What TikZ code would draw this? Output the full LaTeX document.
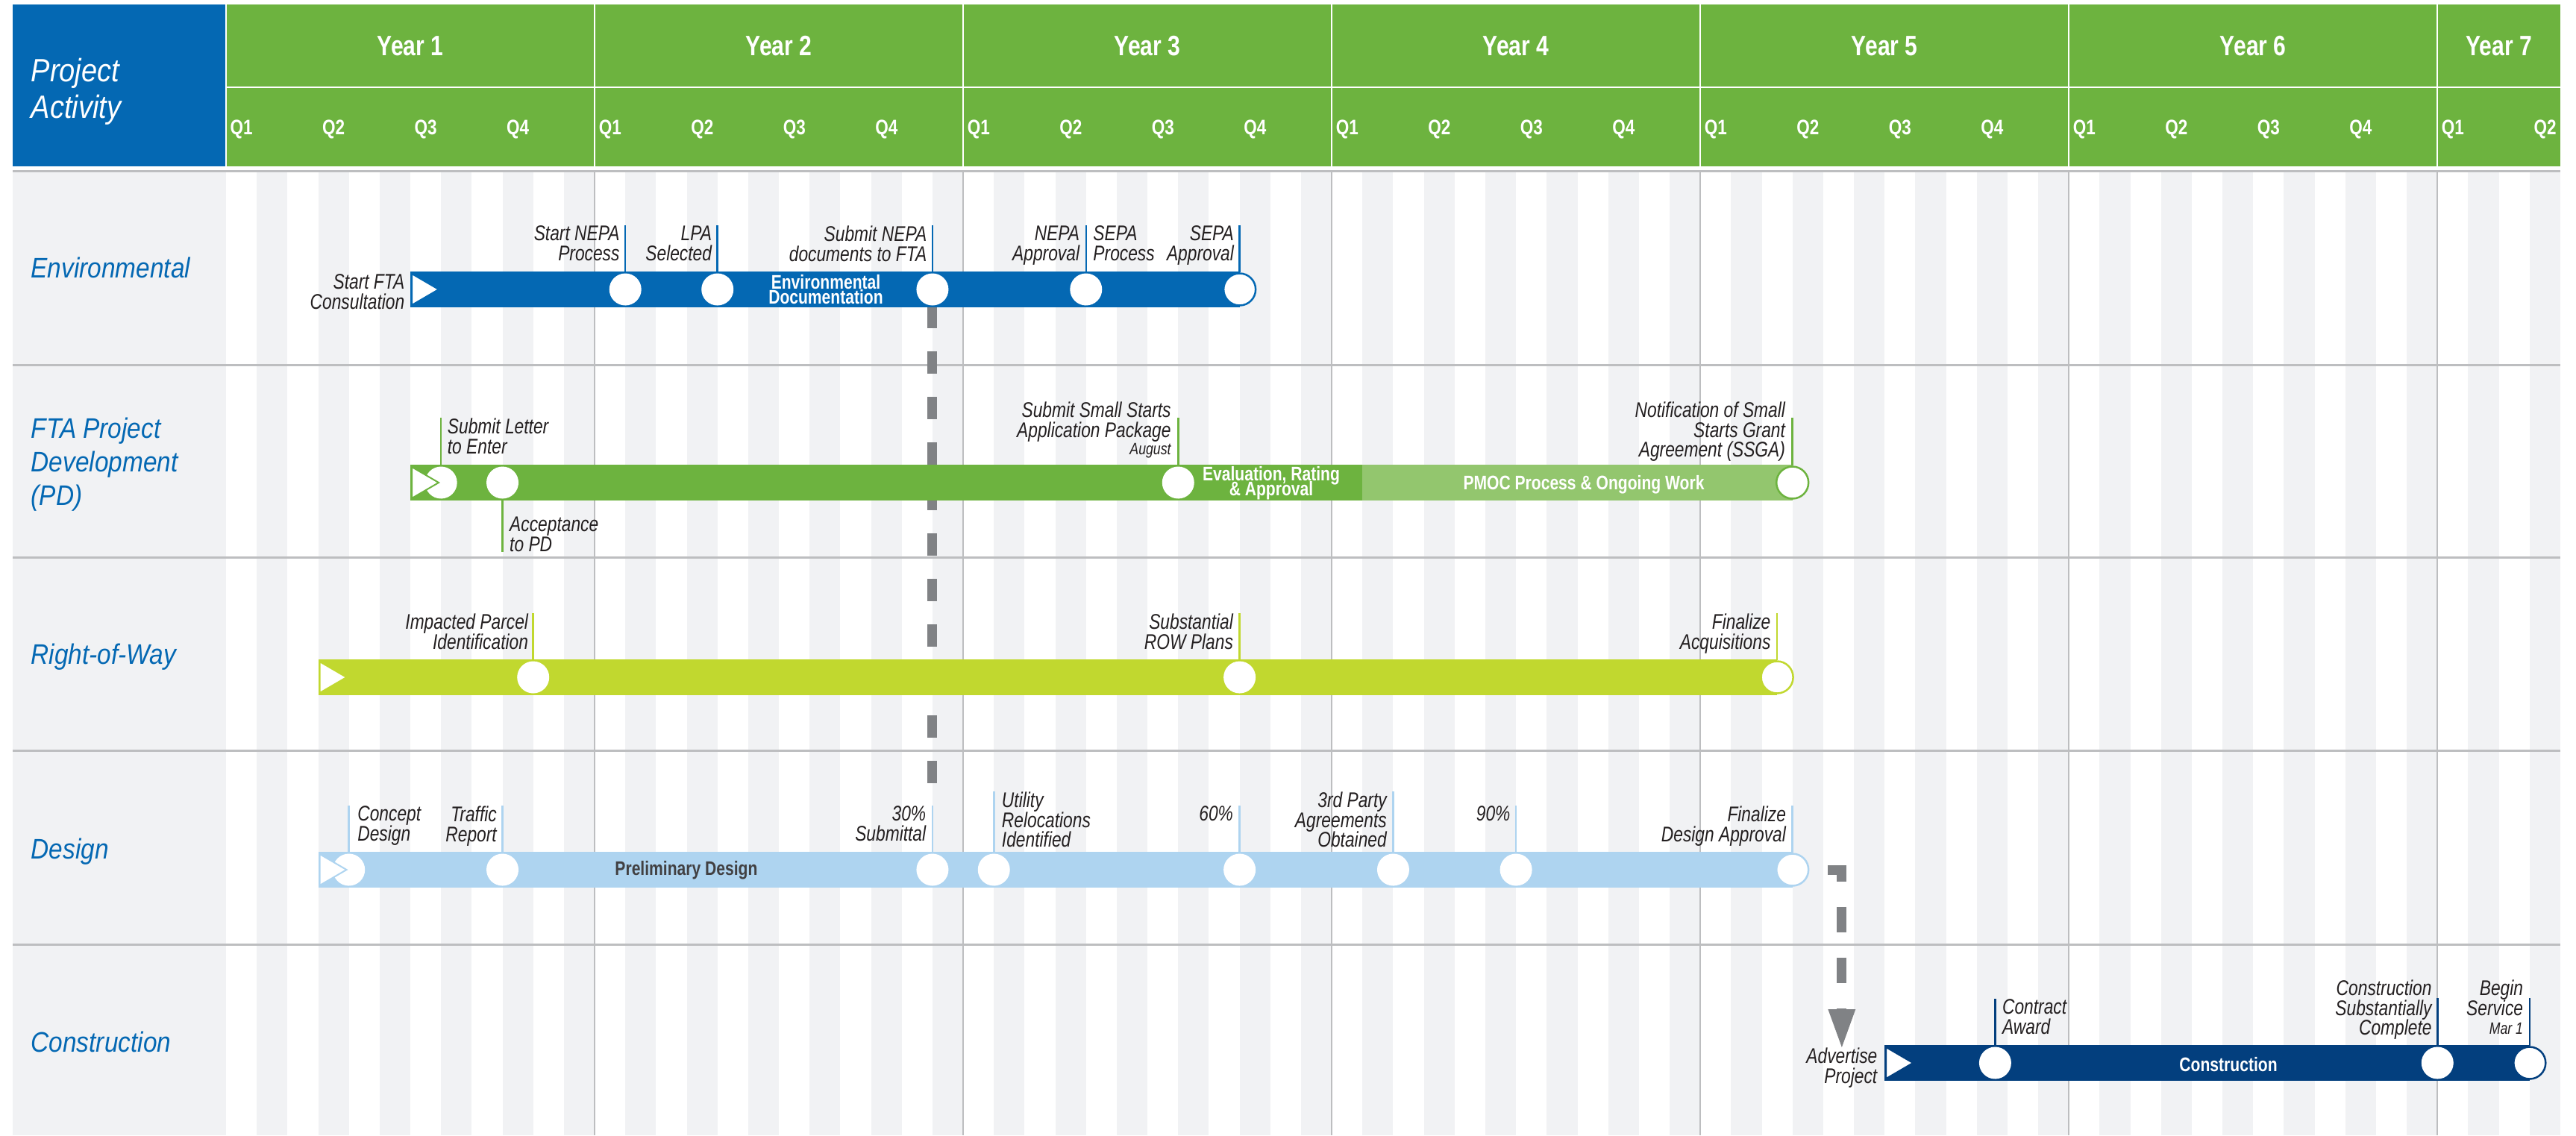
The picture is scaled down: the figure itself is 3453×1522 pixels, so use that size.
\documentclass[tikz,border=0pt]{standalone}
\usepackage{fontspec}
\setmainfont{Liberation Sans}[FakeStretch=0.8]
\newfontfamily\widefont{Liberation Sans}[FakeStretch=0.88]
\usetikzlibrary{arrows.meta}

\definecolor{pblue}{HTML}{0468B3}
\definecolor{pgreen}{HTML}{6DB33F}
\definecolor{plgreen}{HTML}{93C66E}
\definecolor{rowgreen}{HTML}{C1D82F}
\definecolor{dsblue}{HTML}{AED4F0}
\definecolor{cnavy}{HTML}{033F7E}
\definecolor{stripe}{HTML}{F1F2F4}
\definecolor{gridgrey}{HTML}{BDBEC0}
\definecolor{dashgrey}{HTML}{808285}
\definecolor{ink}{HTML}{231F20}
\definecolor{barink}{HTML}{414042}

\pgfdeclarelayer{grid}
\pgfdeclarelayer{links}
\pgfsetlayers{grid,links,main}

% x position of a month on the time axis
\newcommand{\mpos}[1]{303+41.17*(#1)}
\newcommand{\tightlines}{\lineskiplimit=-100pt\relax}

\begin{document}
\begin{tikzpicture}[x=0.1mm,y=-0.1mm,
		ms/.style={circle,fill=white,inner sep=0pt,minimum size=4.3mm},
		msend/.style={ms,draw=#1,line width=0.25mm},
		lead/.style={line width=0.25mm},
		lbl/.style={inner sep=0pt,text=ink,font=\fontsize{8.1}{7.6}\selectfont\itshape\tightlines},
		datelbl/.style={inner sep=0pt,text=ink,font=\fontsize{6.3}{6.3}\selectfont\itshape},
		rowlbl/.style={inner sep=0pt,text=pblue,align=left,font=\widefont\fontsize{10.8}{12.8}\selectfont\itshape},
		bartxt/.style={inner sep=0pt,text=white,align=center,font=\fontsize{7.5}{5.7}\selectfont\bfseries\tightlines},
		yrlbl/.style={inner sep=0pt,text=white,font=\fontsize{10.7}{12}\selectfont\bfseries},
		qlbl/.style={inner sep=0pt,text=white,font=\fontsize{8}{9}\selectfont\bfseries},
		startmk/.style={fill=white,draw=#1,line width=0.2mm},
		gdash/.style={draw=dashgrey,line width=1.3mm}]
	
	\useasboundingbox (0,0) rectangle (3453,1522);
	
	% background grid and header
	\begin{pgfonlayer}{grid}
		\fill[white] (0,0) rectangle (3453,1522);
		\fill[stripe] (17,229) rectangle (303,1522);
		\foreach \k in {1,3,...,75}
			\fill[stripe] ({\mpos{\k}},229) rectangle ({\mpos{\k+1}},1522);
		\foreach \k in {12,24,...,72}
			\draw[gridgrey,line width=0.2mm] ({\mpos{\k}},229) -- ({\mpos{\k}},1522);
		\foreach \y in {229,489,747,1006,1266}
			\draw[gridgrey,line width=0.3mm] (17,\y) -- ({\mpos{76}},\y);
		%
		\fill[pblue] (17,6) rectangle (303,223);
		\fill[pgreen] (303,6) rectangle ({\mpos{76}},223);
		\draw[white,line width=0.2mm] (303,117) -- ({\mpos{76}},117);
		\foreach \k in {0,12,...,72}
			\draw[white,line width=0.2mm] ({\mpos{\k}},6) -- ({\mpos{\k}},223);
	\end{pgfonlayer}
	
	\node[anchor=north west,inner sep=0pt,text=white,align=left,font=\widefont\fontsize{12.3}{14.2}\selectfont\itshape] (pact) at (41,77) {Project\\Activity};
	\foreach \y in {1,...,6}
		\node[yrlbl] (yr\y) at ({303+494.04*(\y-0.5)},62) {Year \y};
	\node[yrlbl] (yr7) at ({(\mpos{72}+\mpos{76})/2},62) {Year 7};
	\foreach \q [evaluate=\q as \qn using {int(mod(\q,4)+1)}] in {0,...,25}
		\node[qlbl,anchor=base west] (q\q) at ({308+123.51*\q},180) {Q\qn};
	
	% Environmental
	\node[rowlbl,anchor=base west] (renv) at (41,372) {Environmental};
	\fill[pblue] ({\mpos{6}},364) rectangle ({\mpos{33}},412);
	\node[ms] (snepa) at ({\mpos{13}},388) {};
	\node[ms] (lpa) at ({\mpos{16}},388) {};
	\node[ms] (subnepa) at ({\mpos{23}},388) {};
	\node[ms] (nepaap) at ({\mpos{28}},388) {};
	\node[msend=pblue] (sepaap) at ({\mpos{33}},388) {};
	\draw[startmk=pblue] ({\mpos{6}+2},367) -- ({\mpos{6}+2},409) -- ({\mpos{6}+38},388) -- cycle;
	\node[lbl,align=right,anchor=north east] (sfta-l) at ({\mpos{6}-7},367) {Start FTA\\Consultation};
	\node[lbl,align=right,anchor=north east] (snepa-l) at ({\mpos{13}-7},302) {Start NEPA\\Process};
	\node[lbl,align=right,anchor=north east] (lpa-l) at ({\mpos{16}-7},302) {LPA\\Selected};
	\node[lbl,align=right,anchor=north east] (subnepa-l) at ({\mpos{23}-7},302) {Submit NEPA\\documents to FTA};
	\node[lbl,align=right,anchor=north east] (nepaap-l) at ({\mpos{28}-8},302) {NEPA\\Approval};
	\node[lbl,align=left,anchor=north west] (sepapr-l) at ({\mpos{28}+9},302) {SEPA\\Process};
	\node[lbl,align=right,anchor=north east] (sepaap-l) at ({\mpos{33}-7},302) {SEPA\\Approval};
	\foreach \m in {snepa,lpa,subnepa,nepaap,sepaap}
		\draw[lead,pblue] (\m.north) -- (\m |- \m-l.north);
	\node[bartxt] (envdoc) at (1107,388) {Environmental\\Documentation};
	
	% FTA Project Development
	\node[rowlbl,anchor=north west] (rfta) at (41,559) {FTA Project\\Development\\(PD)};
	\fill[pgreen] ({\mpos{6}},623) rectangle ({\mpos{37}},671);
	\fill[plgreen] ({\mpos{37}},623) rectangle ({\mpos{51}},671);
	\node[ms] (sle) at ({\mpos{7}},647) {};
	\node[ms] (acc) at ({\mpos{9}},647) {};
	\node[ms] (sss) at ({\mpos{31}},647) {};
	\node[msend=pgreen] (ssga) at ({\mpos{51}},647) {};
	\draw[startmk=pgreen] ({\mpos{6}+2},626) -- ({\mpos{6}+2},668) -- ({\mpos{6}+38},647) -- cycle;
	\node[lbl,align=left,anchor=north west] (sle-l) at ({\mpos{7}+8},560) {Submit Letter\\to Enter};
	\node[lbl,align=left,anchor=north west] (acc-l) at ({\mpos{9}+9},692) {Acceptance\\to PD};
	\node[lbl,align=right,anchor=north east] (sss-l) at ({\mpos{31}-9},538) {Submit Small Starts\\Application Package};
	\node[datelbl,anchor=north east] (sss-d) at ({\mpos{31}-9},594) {August};
	\node[lbl,align=right,anchor=north east] (ssga-l) at ({\mpos{51}-9},538) {Notification of Small\\Starts Grant\\Agreement (SSGA)};
	\coordinate (sss-t) at ({\mpos{31}},560);
	\coordinate (ssga-t) at ({\mpos{51}},560);
	\draw[lead,pgreen] (sle.north) -- (sle |- sle-l.north);
	\draw[lead,pgreen] (acc.south) -- (acc |- acc-l.south);
	\draw[lead,pgreen] (sss.north) -- (sss-t);
	\draw[lead,pgreen] (ssga.north) -- (ssga-t);
	\node[bartxt] (eval) at (1704,648) {Evaluation, Rating\\\& Approval};
	\node[bartxt] (pmoc) at (2123,650) {PMOC Process \& Ongoing Work};
	
	% Right-of-Way
	\node[rowlbl,anchor=base west] (rrow) at (41,890) {Right-of-Way};
	\fill[rowgreen] ({\mpos{3}},884) rectangle ({\mpos{50.5}},932);
	\node[ms] (ipi) at ({\mpos{10}},908) {};
	\node[ms] (srow) at ({\mpos{33}},908) {};
	\node[msend=rowgreen] (facq) at ({\mpos{50.5}},908) {};
	\draw[startmk=rowgreen] ({\mpos{3}+2},887) -- ({\mpos{3}+2},929) -- ({\mpos{3}+38},908) -- cycle;
	\node[lbl,align=right,anchor=north east] (ipi-l) at ({\mpos{10}-6},822) {Impacted Parcel\\Identification};
	\node[lbl,align=right,anchor=north east] (srow-l) at ({\mpos{33}-8},822) {Substantial\\ROW Plans};
	\node[lbl,align=right,anchor=north east] (facq-l) at ({\mpos{50.5}-8},822) {Finalize\\Acquisitions};
	\foreach \m in {ipi,srow,facq}
		\draw[lead,rowgreen] (\m.north) -- (\m |- \m-l.north);
	
	% Design
	\node[rowlbl,anchor=base west] (rdes) at (41,1151) {Design};
	\fill[dsblue] ({\mpos{3}},1142) rectangle ({\mpos{51}},1190);
	\node[ms] (cd) at ({\mpos{4}},1166) {};
	\node[ms] (tr) at ({\mpos{9}},1166) {};
	\node[ms] (d30) at ({\mpos{23}},1166) {};
	\node[ms] (ur) at ({\mpos{25}},1166) {};
	\node[ms] (d60) at ({\mpos{33}},1166) {};
	\node[ms] (tpa) at ({\mpos{38}},1166) {};
	\node[ms] (d90) at ({\mpos{42}},1166) {};
	\node[msend=dsblue] (dfin) at ({\mpos{51}},1166) {};
	\draw[startmk=dsblue] ({\mpos{3}+2},1145) -- ({\mpos{3}+2},1187) -- ({\mpos{3}+38},1166) -- cycle;
	\node[lbl,align=left,anchor=north west] (cd-l) at ({\mpos{4}+11},1080) {Concept\\Design};
	\node[lbl,align=right,anchor=north east] (tr-l) at ({\mpos{9}-7},1080) {Traffic\\Report};
	\node[lbl,align=right,anchor=north east] (d30-l) at ({\mpos{23}-8},1080) {30\%\\Submittal};
	\node[lbl,align=left,anchor=north west] (ur-l) at ({\mpos{25}+10},1061) {Utility\\Relocations\\Identified};
	\node[lbl,align=right,anchor=north east] (d60-l) at ({\mpos{33}-8},1080) {60\%};
	\node[lbl,align=right,anchor=north east] (tpa-l) at ({\mpos{38}-8},1061) {3rd Party\\Agreements\\Obtained};
	\node[lbl,align=right,anchor=north east] (d90-l) at ({\mpos{42}-7},1080) {90\%};
	\node[lbl,align=right,anchor=north east] (dfin-l) at ({\mpos{51}-8},1080) {Finalize\\Design Approval};
	\foreach \m in {cd,tr,d30,ur,d60,tpa,d90,dfin}
		\draw[lead,dsblue] (\m.north) -- (\m |- \m-l.north);
	\node[bartxt,text=barink] (prelim) at (920,1167) {Preliminary Design};
	
	% Construction
	\node[rowlbl,anchor=base west] (rcon) at (41,1410) {Construction};
	\fill[cnavy] ({\mpos{54}},1401) rectangle ({\mpos{75}},1449);
	\node[ms] (ca) at ({\mpos{57.6}},1425) {};
	\node[ms] (csc) at ({\mpos{72}},1425) {};
	\node[msend=cnavy] (bs) at ({\mpos{75}},1425) {};
	\draw[startmk=cnavy] ({\mpos{54}+2},1404) -- ({\mpos{54}+2},1446) -- ({\mpos{54}+38},1425) -- cycle;
	\node[lbl,align=right,anchor=north east] (adv) at (2517,1404) {Advertise\\Project};
	\node[lbl,align=left,anchor=north west] (ca-l) at ({\mpos{57.6}+9},1339) {Contract\\Award};
	\node[lbl,align=right,anchor=north east] (csc-l) at ({\mpos{72}-7},1313) {Construction\\Substantially\\Complete};
	\node[lbl,align=right,anchor=north east] (bs-l) at ({\mpos{75}-8},1313) {Begin\\Service};
	\node[datelbl,anchor=north east] (bs-d) at ({\mpos{75}-8},1371) {Mar 1};
	\coordinate (csc-t) at ({\mpos{72}},1338);
	\coordinate (bs-t) at ({\mpos{75}},1338);
	\draw[lead,cnavy] (ca.north) -- (ca |- ca-l.north);
	\draw[lead,cnavy] (csc.north) -- (csc-t);
	\draw[lead,cnavy] (bs.north) -- (bs-t);
	\node[bartxt] (conbar) at (2987,1427) {Construction};
	
	% dependencies
	\begin{pgfonlayer}{links}
		\draw[gdash,dash pattern=on 3mm off 3.1mm,shorten >=7.6mm] (subnepa.south) -- (d30.north);
		\draw[gdash,dash pattern=on 3.4mm off 3.4mm,dash phase=4.3mm,-{Triangle[length=5.1mm,width=3.7mm,line width=0pt]}] (dfin.east) -| (adv.north);
	\end{pgfonlayer}
	
\end{tikzpicture}
\end{document}
